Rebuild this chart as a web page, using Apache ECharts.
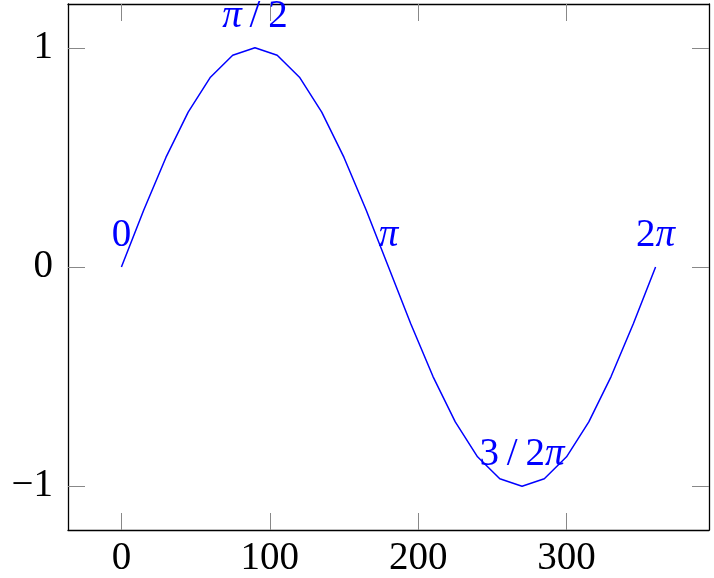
<!DOCTYPE html>
<html><head><meta charset="utf-8">
<script src="https://cdn.jsdelivr.net/npm/echarts@6/dist/echarts.min.js"></script>
<style>html,body{margin:0;padding:0;background:#fff}#c{width:714px;height:578px}</style>
</head><body><div id="c"></div>
<script>
const xValues = [0,15,30,45,60,75,90,105,120,135,150,165,180,195,210,225,240,255,270,285,300,315,330,345,360];
const yValues = [0,0.259,0.5,0.707,0.866,0.966,1,0.966,0.866,0.707,0.5,0.259,0,-0.259,-0.5,-0.707,-0.866,-0.966,-1,-0.966,-0.866,-0.707,-0.5,-0.259,0];
const noteX = [0,90,180,270,360];
const noteText = ['0','π/2','π','3/2π','2π'];
const xTicks = [0,100,200,300];
const yTicks = [-1,0,1];

const FONT = 'Liberation Serif';
const FS = 39;

function richNote(t){
  return t.split('/').join('\u2009/\u2009').split('π').join('{p|π}');
}
const data = xValues.map((x,i)=>{
  const k = noteX.indexOf(x);
  const item = {value:[x,yValues[i]]};
  if(k>=0){
    item.label = {show:true, position:'top', distance:12, formatter: richNote(noteText[k]),
      color:'#0000ff', fontFamily:FONT, fontSize:FS, lineHeight:FS,
      rich:{p:{fontStyle:'italic', color:'#0000ff', fontFamily:FONT, fontSize:FS, lineHeight:FS}}};
  }
  return item;
});

const fmt = v => String(v).replace('-', '\u2212');
const tickStyle = {show:true, inside:true, length:17, lineStyle:{color:'#888', width:1}};
const lineStyle = {show:true, onZero:false, lineStyle:{color:'#000', width:1.3}};
const chart = echarts.init(document.getElementById('c'), null, {renderer:'canvas'});
chart.setOption({
  animation:false,
  grid:{left:68, right:5, top:4, bottom:47},
  xAxis:[
    {type:'value', min:-36, max:396, position:'bottom', splitLine:{show:false},
     axisLine:lineStyle, axisTick:Object.assign({customValues:xTicks},tickStyle),
     axisLabel:{customValues:xTicks, formatter:fmt, color:'#000', fontFamily:FONT, fontSize:FS, margin:9}},
    {type:'value', min:-36, max:396, position:'top', splitLine:{show:false},
     axisLine:lineStyle, axisTick:Object.assign({customValues:xTicks},tickStyle),
     axisLabel:{show:false}}
  ],
  yAxis:[
    {type:'value', min:-1.2, max:1.2, position:'left', splitLine:{show:false},
     axisLine:lineStyle, axisTick:Object.assign({customValues:yTicks},tickStyle),
     axisLabel:{customValues:yTicks, formatter:fmt, color:'#000', fontFamily:FONT, fontSize:FS, margin:15}},
    {type:'value', min:-1.2, max:1.2, position:'right', splitLine:{show:false},
     axisLine:lineStyle, axisTick:Object.assign({customValues:yTicks},tickStyle),
     axisLabel:{show:false}}
  ],
  series:[{type:'line', data:data, showSymbol:true, symbol:'circle', symbolSize:0, clip:false,
    lineStyle:{color:'#0000ff', width:1.5}, itemStyle:{color:'#0000ff'},
    labelLayout:{hideOverlap:false}}]
});
</script></body></html>
